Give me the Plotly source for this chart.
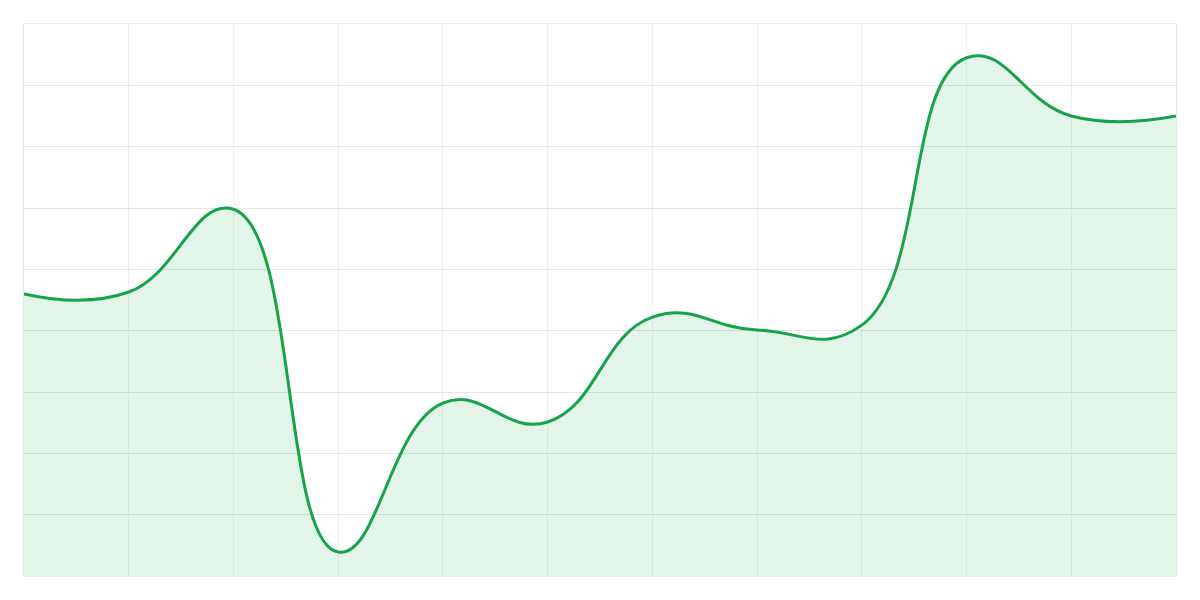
import plotly.graph_objects as go

# one value per vertical grid line (y axis 0..90)
x_idx = list(range(12))
values = [46, 46.3, 59.8, 3.9, 28.2, 25.1, 42.2, 40.1, 40.9, 84.5, 75.0, 75.0]

line_col = '#16a34a'
fill_col = 'rgba(22,163,74,0.12)'

fig = go.Figure()
fig.add_trace(go.Scatter(
    x=x_idx,
    y=values,
    mode='lines',
    line=dict(color=line_col, width=3, shape='spline', smoothing=1.3),
    fill='tozeroy',
    fillcolor=fill_col,
    hoverinfo='skip',
))

# page body adds 8px, so the margins are shifted to land the plot at 24..1176
fig.update_layout(
    width=1200, height=600,
    margin=dict(l=16, r=32, t=16, b=32),
    paper_bgcolor='white',
    plot_bgcolor='white',
    showlegend=False,
)
fig.update_xaxes(range=[0, 11], dtick=1, showticklabels=False,
                 showgrid=True, gridcolor='#efefef', gridwidth=1,
                 zeroline=False, showline=True, linecolor='#efefef',
                 linewidth=1, mirror=True)
fig.update_yaxes(range=[0, 90], dtick=10, showticklabels=False,
                 showgrid=True, gridcolor='#e5e5e5', gridwidth=1,
                 zeroline=False, showline=True, linecolor='#e5e5e5',
                 linewidth=1, mirror=True)

fig.write_html("out.html")
